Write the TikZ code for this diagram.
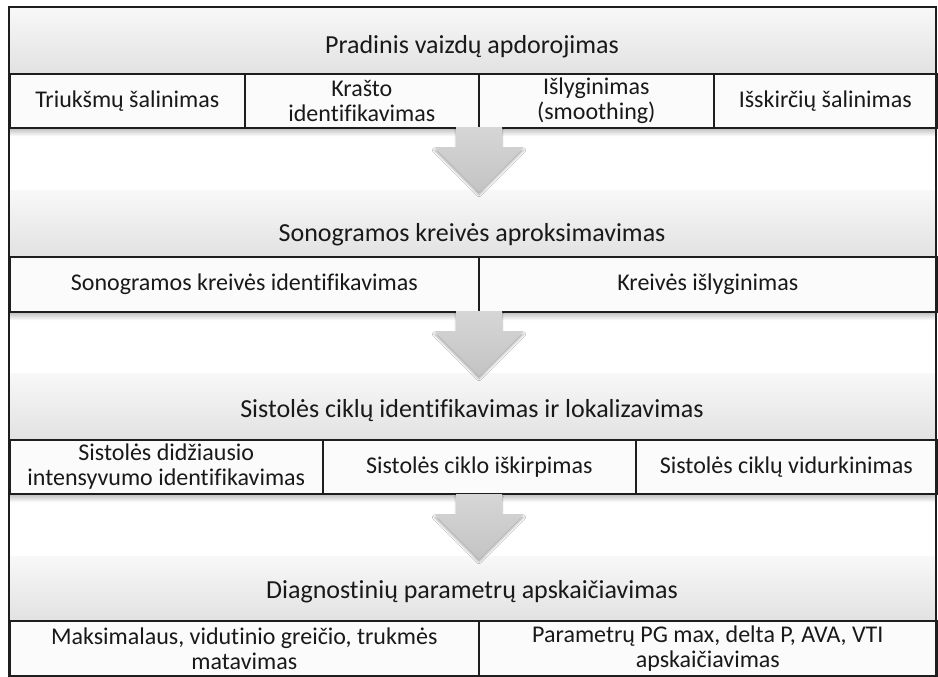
\documentclass[tikz,border=0pt]{standalone}
\usepackage{fontspec}
\setmainfont[Ligatures=NoCommon]{Carlito}
\usetikzlibrary{shadows,shadows.blur,fadings}
\definecolor{lineC}{HTML}{1E1E1E}
\definecolor{headTop}{HTML}{F8F8F8}
\definecolor{headBot}{HTML}{E2E2E2}
\definecolor{cellC}{HTML}{FBFBFB}
\definecolor{arrTop}{HTML}{D6D6D6}
\definecolor{arrBot}{HTML}{C4C4C4}
\begin{document}
\begin{tikzpicture}[x=1pt,y=-1pt,
  head/.style={draw=none, top color=headTop, bottom color=headBot, inner sep=0pt, anchor=north west},
  headtext/.style={inner sep=0pt, font=\fontsize{26}{30}\selectfont, text=black!90},
  cell/.style={draw=lineC, line width=1.6pt, fill=cellC, inner sep=0pt, anchor=north west, align=center,
    font=\fontsize{24}{25.5}\selectfont, text=black!90},
  shade/.style={draw=none, top color=black!28, bottom color=white, inner sep=0pt, anchor=north west},
  blockarrow/.style={draw=none, top color=arrTop, bottom color=arrBot,
    blur shadow={shadow xshift=0pt, shadow yshift=-3pt, shadow blur steps=6, shadow opacity=30}}
]
\useasboundingbox (0,0) rectangle (938,677);
\fill[white] (0,0) rectangle (938,677);

% ---------- band 1
\node[head, minimum width=927, minimum height=66] (h1) at (9,7) {};
\node[headtext] (t1) at (472,47) {Pradinis vaizdų apdorojimas};
\node[shade, minimum width=927, minimum height=9] (s1) at (9,127) {};
\node[cell, minimum width=235, minimum height=54] (c11) at (9,73) {Triukšmų šalinimas};
\node[cell, minimum width=234, minimum height=54] (c12) at (244,73) {Krašto\\identifikavimas};
\node[cell, minimum width=235, minimum height=54] (c13) at (478,73) {Išlyginimas\\(smoothing)};
\node[cell, minimum width=223, minimum height=54] (c14) at (713,73) {Išskirčių šalinimas};

% ---------- band 2
\node[head, minimum width=927, minimum height=66] (h2) at (9,190) {};
\node[headtext] (t2) at (472,235) {Sonogramos kreivės aproksimavimas};
\node[shade, minimum width=927, minimum height=9] (s2) at (9,311) {};
\node[cell, minimum width=469, minimum height=55] (c21) at (9,256) {Sonogramos kreivės identifikavimas};
\node[cell, minimum width=458, minimum height=55] (c22) at (478,256) {Kreivės išlyginimas};

% ---------- band 3
\node[head, minimum width=927, minimum height=66] (h3) at (9,373) {};
\node[headtext] (t3) at (472,411) {Sistolės ciklų identifikavimas ir lokalizavimas};
\node[shade, minimum width=927, minimum height=9] (s3) at (9,493) {};
\node[cell, minimum width=313, minimum height=54] (c31) at (9,439) {Sistolės didžiausio\\intensyvumo identifikavimas};
\node[cell, minimum width=313, minimum height=54] (c32) at (322,439) {Sistolės ciklo iškirpimas};
\node[cell, minimum width=301, minimum height=54] (c33) at (635,439) {Sistolės ciklų vidurkinimas};

% ---------- band 4
\node[head, minimum width=927, minimum height=64] (h4) at (9,556) {};
\node[headtext] (t4) at (472,592) {Diagnostinių parametrų apskaičiavimas};
\node[cell, minimum width=469, minimum height=56] (c41) at (9,620) {Maksimalaus, vidutinio greičio, trukmės\\matavimas};
\node[cell, minimum width=458, minimum height=56] (c42) at (478,620) {Parametrų PG max, delta P, AVA, VTI\\apskaičiavimas};

% ---------- block arrows
\coordinate (a1) at (479,127);
\coordinate (a2) at (479,311);
\coordinate (a3) at (479,494);
\foreach \a in {a1,a2,a3}{
  \path[blockarrow] ([xshift=-23pt]\a) -- ([xshift=23pt]\a) -- ([xshift=23pt,yshift=-20pt]\a)
    -- ([xshift=45pt,yshift=-20pt]\a) -- ([yshift=-65pt]\a) -- ([xshift=-45pt,yshift=-20pt]\a)
    -- ([xshift=-23pt,yshift=-20pt]\a) -- cycle;
}

% ---------- outer frame
\draw[lineC, line width=1.6pt] (9,7) rectangle (936,676);
\end{tikzpicture}
\end{document}
